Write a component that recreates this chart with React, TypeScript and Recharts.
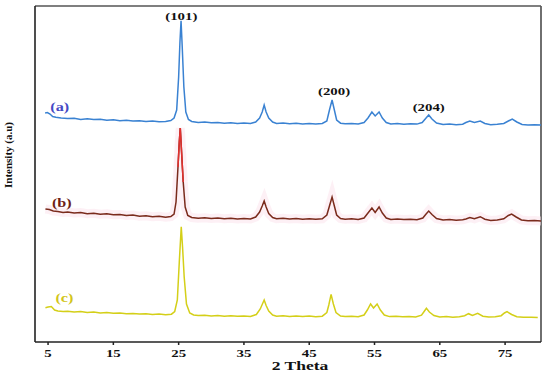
import React from "react";
import { LineChart, Line, XAxis, YAxis, ReferenceDot, ReferenceLine, Customized } from "recharts";

// XRD patterns: x = 2θ, y = intensity (a.u., stacked offsets)
const seriesA = [
  [4.55, 229], [4.9, 229.5], [5.3, 228], [5.7, 225.5], [6.2, 224.8], [7, 224], [8, 223.5], [9, 223.8],
  [10, 222.6], [11, 223.2], [12, 222.4], [13, 222.8], [14, 221.7], [15, 222.2], [16, 221.3], [17, 221.8],
  [18, 220.9], [19, 221.3], [20, 220.6], [21, 220.9], [22, 220.2], [23, 220.6], [23.8, 221.5], [24.3, 224],
  [24.7, 232], [25.0, 265], [25.2, 300], [25.37, 321.3], [25.55, 295], [25.8, 255], [26.1, 230], [26.5, 222.5],
  [27, 220.5], [28, 219.6], [29, 220], [30, 219.2], [31, 219.6], [32, 218.8], [33, 219.3], [34, 218.6],
  [35, 219], [36, 218.5], [36.8, 220], [37.4, 224], [37.8, 230], [38.1, 237], [38.4, 230], [38.8, 224],
  [39.4, 220], [40, 218.6], [41, 218.9], [42, 218.2], [43, 218.7], [44, 218.1], [45, 218.5], [46, 218],
  [47, 218.6], [47.7, 221], [48.1, 232], [48.5, 242], [48.85, 232], [49.2, 222], [49.8, 218.8], [50.5, 218.2],
  [51.5, 218.6], [52.5, 218], [53.4, 219.5], [54.0, 224], [54.6, 230], [55.1, 226], [55.7, 230], [56.2, 224],
  [56.8, 219.5], [57.5, 218], [58.5, 218.4], [59.5, 217.8], [60.5, 218.2], [61.5, 217.9], [62.3, 219.5],
  [62.9, 224], [63.3, 227], [63.8, 223], [64.5, 219], [65.5, 217.5], [66.5, 217.9], [67.5, 217.3],
  [68.5, 217.8], [69.0, 219.5], [69.6, 221], [70.3, 219.5], [71.2, 221], [71.9, 218.5], [72.8, 217.3],
  [73.8, 217.7], [74.8, 218.5], [75.5, 221], [76.1, 223], [76.8, 220], [77.6, 217.5], [78.5, 217],
  [79.5, 217.3], [80.8, 216.8],
];

const seriesB = [
  [4.6, 133], [5.2, 132.5], [5.8, 131], [6.5, 130.5], [7.3, 129.6], [8, 130], [9, 129], [10, 129.4],
  [11, 128.3], [12, 128.8], [13, 127.8], [14, 128.2], [15, 127.2], [16, 127.6], [17, 126.5], [18, 126.9],
  [19, 125.8], [20, 126.2], [21, 125.3], [22, 125.7], [23, 124.8], [23.8, 125.4], [24.3, 128], [24.6, 140],
  [24.9, 175], [25.1, 200], [25.25, 214], [25.45, 190], [25.7, 160], [26.0, 135], [26.4, 126.5], [27, 124.5],
  [28, 123.8], [29, 124.2], [30, 123.4], [31, 123.9], [32, 123.2], [33, 123.7], [34, 123], [35, 123.5],
  [36, 123], [36.8, 125], [37.4, 130], [37.8, 136], [38.1, 141], [38.4, 135], [38.8, 128.5], [39.4, 124.5],
  [40, 123.3], [41, 123.7], [42, 123], [43, 123.4], [44, 122.8], [45, 123.3], [46, 122.7], [47, 123.2],
  [47.7, 127], [48.1, 136], [48.5, 145], [48.85, 136], [49.2, 127], [49.8, 123.5], [50.5, 122.8], [51.5, 123.2],
  [52.5, 122.6], [53.4, 124], [54.0, 129], [54.6, 134], [55.1, 129.5], [55.7, 135], [56.2, 129], [56.8, 124],
  [57.5, 122.6], [58.5, 123], [59.5, 122.4], [60.5, 122.8], [61.5, 122.3], [62.4, 124], [62.9, 128],
  [63.3, 131], [63.8, 127.5], [64.5, 123.5], [65.5, 122], [66.5, 122.4], [67.5, 121.8], [68.5, 122.2],
  [69.0, 123], [69.6, 124.5], [70.3, 123.3], [71.2, 125.3], [71.9, 122.8], [72.8, 121.6], [73.8, 122],
  [74.8, 123.2], [75.5, 126.5], [76.0, 128], [76.7, 125], [77.5, 122], [78.5, 121.2], [79.5, 121.5], [80.8, 121],
];

const seriesC = [
  [4.6, 34.3], [5.0, 35], [5.5, 35.5], [6.0, 32], [6.5, 31], [7.3, 30.5], [8, 30.8], [9, 30], [10, 30.4],
  [11, 29.5], [12, 29.9], [13, 29.1], [14, 29.5], [15, 28.7], [16, 29.1], [17, 28.3], [18, 28.6], [19, 27.9],
  [20, 28.3], [21, 27.5], [22, 27.9], [23, 27.2], [23.9, 27.8], [24.4, 30.5], [24.8, 42], [25.1, 80],
  [25.4, 115.3], [25.6, 95], [25.85, 65], [26.2, 38], [26.7, 29], [27.3, 27], [28, 26.4], [29, 26.8],
  [30, 26.1], [31, 26.5], [32, 25.8], [33, 26.3], [34, 25.7], [35, 26.1], [36, 25.6], [36.9, 27.5],
  [37.5, 33], [38.1, 42], [38.4, 36.5], [38.8, 31], [39.4, 27], [40, 25.8], [41, 26.2], [42, 25.5],
  [43, 26], [44, 25.4], [45, 25.9], [46, 25.3], [47, 25.8], [47.7, 29.5], [48.0, 37], [48.35, 47.7],
  [48.7, 38], [49.1, 29.5], [49.8, 26], [50.5, 25.4], [51.5, 25.8], [52.5, 25.2], [53.4, 27], [53.9, 32],
  [54.4, 38], [54.85, 34], [55.4, 38], [55.9, 32], [56.5, 27], [57.3, 25.4], [58.3, 25.8], [59.3, 25.2],
  [60.3, 25.6], [61.3, 25.1], [62.2, 26.8], [62.6, 30.5], [62.95, 33.7], [63.4, 30], [64.1, 26.5], [65, 25],
  [66, 25.4], [67, 24.8], [68, 25.3], [68.8, 26.3], [69.4, 28.3], [70.0, 26.5], [70.8, 28.7], [71.6, 25.8],
  [72.5, 24.9], [73.5, 25.3], [74.4, 26.3], [74.9, 29], [75.3, 30.3], [76.0, 27.5], [76.8, 25.2],
  [77.8, 24.7], [79, 24.8], [80, 24.4],
];

const xTicks = [5, 15, 25, 35, 45, 55, 65, 75];

// peak labels and curve labels: [text, x, y, colour]
const annotations: [string, number, number, string][] = [
  ["(101)", 25.4, 326, "#111"],
  ["(200)", 48.8, 251, "#111"],
  ["(204)", 63.3, 235, "#111"],
  ["(a)", 6.8, 235, "#4549c4"],
  ["(b)", 7.1, 139, "#6e2216"],
  ["(c)", 7.5, 44, "#d2c51a"],
];

const toRows = (s: number[][]) => s.map(([x, y]) => ({ x, y }));
const dataA = toRows(seriesA);
const dataB = toRows(seriesB);
const dataC = toRows(seriesC);
const dataBPeak = dataB.filter((d) => d.x >= 24.75 && d.x <= 25.85);

const X_MIN = 3;
const X_MAX = 80.5;
const Y_MAX = 336;

// chart layout
const W = 550;
const H = 375;
const MARGIN = { top: 6, right: 9, bottom: 0, left: 0 };
const Y_AXIS_W = 35;
const X_AXIS_H = 33;

const SERIF = "Liberation Serif";
const STRETCH = 1.35; // the source image is stretched horizontally

function StretchText({ x, y, text, fill = "#111", size = 11 }: any) {
  return (
    <g transform={`translate(${x},${y}) scale(${STRETCH},1)`}>
      <text
        x={0}
        y={0}
        textAnchor="middle"
        dominantBaseline="central"
        style={{ fontFamily: SERIF, fontWeight: 700, fontSize: size }}
        fill={fill}
      >
        {text}
      </text>
    </g>
  );
}

function XTick({ x, y, payload }: any) {
  return <StretchText x={x} y={y + 6} text={payload.value} />;
}

function Decorations() {
  const right = W - MARGIN.right;
  const top = MARGIN.top;
  const bottom = H - MARGIN.bottom - X_AXIS_H;
  return (
    <g>
      {/* right edge of the frame */}
      <line x1={right} y1={top} x2={right} y2={bottom} stroke="#333" strokeWidth={1.4} />
      <StretchText x={300} y={365} text="2 Theta" size={13} />
      <text
        transform={`translate(8,${(top + bottom) / 2 - 19}) rotate(-90)`}
        textAnchor="middle"
        dominantBaseline="central"
        style={{ fontFamily: SERIF, fontWeight: 700, fontSize: 11 }}
        fill="#111"
      >
        Intensity (a.u)
      </text>
    </g>
  );
}

export default function App() {
  return (
    <div style={{ position: "absolute", left: 0, top: 0, background: "#fff" }}>
      <LineChart width={W} height={H} margin={MARGIN}>
        <XAxis
          dataKey="x"
          type="number"
          domain={[X_MIN, X_MAX]}
          ticks={xTicks}
          allowDataOverflow
          height={X_AXIS_H}
          tick={<XTick />}
          tickSize={3}
          tickLine={{ stroke: "#222", strokeWidth: 1.5 }}
          axisLine={{ stroke: "#222", strokeWidth: 1.6 }}
        />
        <YAxis
          type="number"
          domain={[0, Y_MAX]}
          allowDataOverflow
          width={Y_AXIS_W}
          tick={false}
          tickLine={false}
          axisLine={{ stroke: "#222", strokeWidth: 1.6 }}
        />
        <ReferenceLine y={Y_MAX} stroke="#555" strokeWidth={1.4} ifOverflow="visible" />

        <Line data={dataB} dataKey="y" stroke="#fce3ec" strokeOpacity={0.55} strokeWidth={9} dot={false} isAnimationActive={false} />
        <Line data={dataA} dataKey="y" stroke="#3a82d2" strokeWidth={1.5} dot={false} isAnimationActive={false} />
        <Line data={dataB} dataKey="y" stroke="#7a2b1c" strokeWidth={1.5} dot={false} isAnimationActive={false} />
        <Line data={dataBPeak} dataKey="y" stroke="#e2302e" strokeWidth={1.5} dot={false} isAnimationActive={false} />
        <Line data={dataC} dataKey="y" stroke="#d4cf18" strokeWidth={1.5} dot={false} isAnimationActive={false} />

        {annotations.map(([text, x, y, fill]) => (
          <ReferenceDot
            key={text}
            x={x}
            y={y}
            r={0}
            ifOverflow="visible"
            shape={(p: any) => <StretchText x={p.cx} y={p.cy} text={text} fill={fill} size={text.length > 3 ? 11 : 12} />}
          />
        ))}

        <Customized component={Decorations} />
      </LineChart>
    </div>
  );
}
